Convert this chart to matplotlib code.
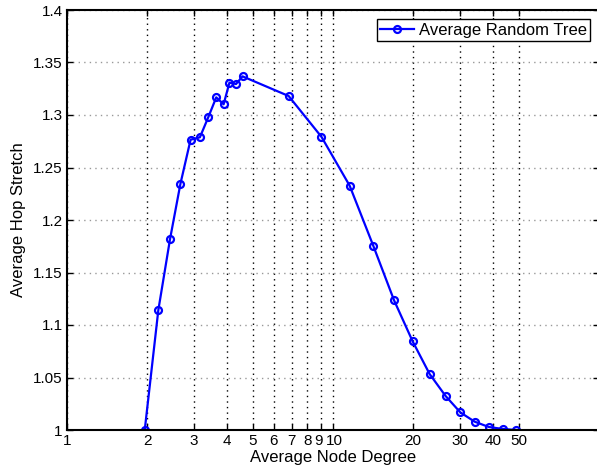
import numpy as np
import matplotlib
matplotlib.use("Agg")
import matplotlib.pyplot as plt
import matplotlib.transforms as mtransforms
from matplotlib.ticker import FixedLocator, NullLocator

plt.rcParams['font.family'] = ['Liberation Sans', 'DejaVu Sans']

# average node degree vs. average hop stretch
degree = [1.96, 2.205, 2.44, 2.67, 2.915, 3.16, 3.40, 3.64, 3.88, 4.08, 4.32, 4.57,
          6.81, 9.05, 11.55, 14.17, 16.96, 19.92, 23.08, 26.5, 30.1, 34.1, 38.5,
          43.4, 48.9]
stretch = [1.0, 1.1143, 1.1819, 1.2346, 1.2765, 1.2788, 1.2981, 1.3168, 1.3102,
           1.3308, 1.3295, 1.3368, 1.3181, 1.2792, 1.2327, 1.1755, 1.1236, 1.0845,
           1.0533, 1.0324, 1.0168, 1.0079, 1.0029, 1.001, 1.0]

xticks = [1, 2, 3, 4, 5, 6, 7, 8, 9, 10, 20, 30, 40, 50]
xticklabels = ['1', '2', '3', '4', '5', '6', '7', '8', '9', '10', '20', '30', '40', '50']
yticks = [1, 1.05, 1.1, 1.15, 1.2, 1.25, 1.3, 1.35, 1.4]
yticklabels = ['1', '1.05', '1.1', '1.15', '1.2', '1.25', '1.3', '1.35', '1.4']

fig = plt.figure(figsize=(5.97, 4.70), dpi=100)
ax = fig.add_axes([67 / 597, 40 / 470, 532 / 597, 420 / 470])

ax.plot(degree, stretch, color='#0000ff', lw=1.6, marker='o', ms=5,
        mfc='none', mec='#0000ff', mew=1.6, label='Average Random Tree')

ax.set_xscale('log')
ax.set_xlim(1, 100)
ax.set_ylim(1, 1.4)
ax.xaxis.set_major_locator(FixedLocator(xticks))
ax.xaxis.set_minor_locator(NullLocator())
ax.set_xticklabels(xticklabels)
ax.set_yticks(yticks)
ax.set_yticklabels(yticklabels)

ax.grid(True, axis='x', color='black', ls=(0, (1, 3)), lw=1.0)
ax.grid(True, axis='y', color='#999999', ls=(0, (1, 3)), lw=1.0)
ax.tick_params(direction='in', length=4, width=1.0, labelsize=11,
               top=True, right=True, pad=3)
for s in ax.spines.values():
    s.set_linewidth(1.5)

# "9" and "10" sit very close together on the log axis; nudge them apart a touch
nudge = {'9': -1.5, '10': 1.0}
for lab in ax.get_xticklabels():
    dx = nudge.get(lab.get_text())
    if dx:
        lab.set_transform(lab.get_transform() +
                          mtransforms.ScaledTranslation(dx / 72, 0, fig.dpi_scale_trans))

ax.set_xlabel('Average Node Degree', fontsize=12, labelpad=1)
ax.set_ylabel('Average Hop Stretch', fontsize=12, labelpad=5)

leg = ax.legend(loc='upper right', fontsize=12, fancybox=False, framealpha=1,
                edgecolor='black', borderaxespad=0.55, handlelength=2.0,
                borderpad=0.2, handletextpad=0.3)
leg.get_frame().set_linewidth(1.0)

fig.savefig('out.png', dpi=100)
